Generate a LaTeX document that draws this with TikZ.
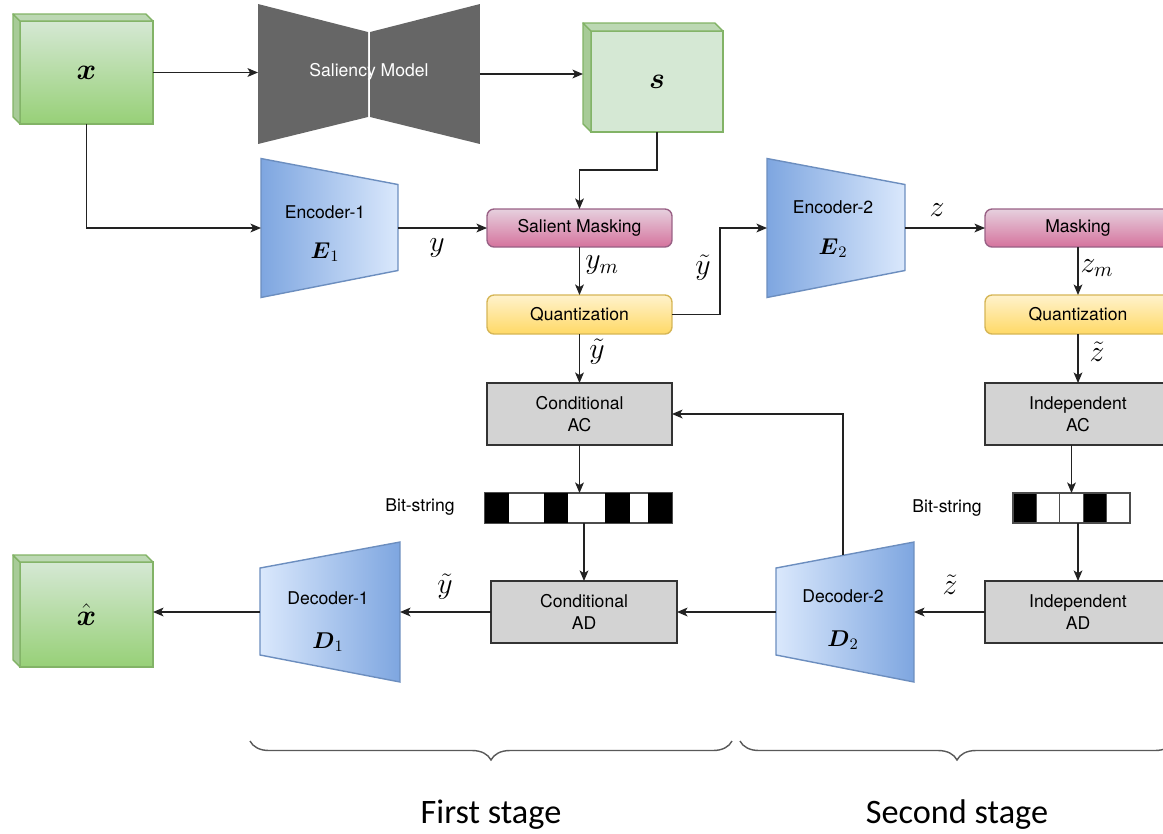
\RequirePackage{fix-cm}
\documentclass[tikz,border=0pt]{standalone}
\usepackage{amsmath}
\usepackage{fontspec}
\setsansfont{TeX Gyre Heros}
\newfontfamily\stagefont{Carlito}
\usetikzlibrary{arrows.meta, calc, decorations.pathreplacing, positioning}
\definecolor{greenhi}{HTML}{D5E8D4}
\definecolor{greenlo}{HTML}{97D077}
\definecolor{greenline}{HTML}{82B366}
\definecolor{salgray}{HTML}{666666}
\definecolor{encdark}{HTML}{7EA6E0}
\definecolor{enclight}{HTML}{DAE8FC}
\definecolor{encline}{HTML}{6C8EBF}
\definecolor{maskhi}{HTML}{E6D0DE}
\definecolor{masklo}{HTML}{D5739D}
\definecolor{maskline}{HTML}{996185}
\definecolor{quanthi}{HTML}{FFF2CC}
\definecolor{quantlo}{HTML}{FFD966}
\definecolor{quantline}{HTML}{D6B656}
\definecolor{codergray}{HTML}{D3D3D3}
\definecolor{coderline}{HTML}{333333}
\definecolor{wire}{HTML}{222222}
\tikzset{
  arr/.style={
    -{Stealth[length=6pt,width=5pt,inset=1.5pt]},
    line width=0.8pt,
    color=wire
  },
  frame/.style={
    rectangle,
    inner sep=0pt,
    outer sep=0pt
  },
  blockbox/.style={
    frame,
    draw,
    line width=0.8pt,
    align=center,
    font=\sffamily\fontsize{10}{12.5}\selectfont
  },
  maskbox/.style={
    blockbox,
    rounded corners=4pt,
    top color=maskhi,
    bottom color=masklo,
    draw=maskline
  },
  quantbox/.style={
    blockbox,
    rounded corners=4pt,
    top color=quanthi,
    bottom color=quantlo,
    draw=quantline
  },
  coderbox/.style={
    blockbox,
    fill=codergray,
    draw=coderline,
    minimum height=1.24cm
  },
  bitbar/.style={
    frame,
    draw=black!70,
    line width=0.6pt,
    minimum height=0.6cm
  },
  cubefront/.style={
    frame,
    draw=greenline,
    line width=0.8pt,
    font=\fontsize{17}{20}\selectfont
  },
  cubeside/.style={
    fill=greenline!55!greenhi,
    draw=greenline,
    line width=0.8pt,
    line join=round
  },
  cubetop/.style={
    fill=greenline!30!greenhi,
    draw=greenline,
    line width=0.8pt,
    line join=round
  },
  encshade/.style={
    left color=encdark,
    right color=enclight,
    draw=encline,
    line width=0.8pt
  },
  decshade/.style={
    left color=enclight,
    right color=encdark,
    draw=encline,
    line width=0.8pt
  },
  tagtext/.style={
    font=\sffamily\fontsize{10}{12}\selectfont,
    inner sep=0pt
  },
  symtext/.style={
    font=\fontsize{13}{15}\selectfont,
    inner sep=0pt
  },
  lbl/.style={
    font=\fontsize{17}{20}\selectfont,
    inner sep=0pt
  },
  stagebrace/.style={
    decorate,
    decoration={brace, mirror, amplitude=0.38cm},
    draw=black!65,
    line width=0.8pt
  },
  stagetext/.style={
    font=\stagefont\fontsize{19.5}{22}\selectfont,
    inner sep=0pt
  }
}
\begin{document}
\begin{tikzpicture}[x=0.02cm, y=-0.02cm]
  \clip (0,0) rectangle (1163,833);

  % input image x
  \node[cubefront, top color=greenhi, bottom color=greenlo,
        minimum width=2.66cm, minimum height=2.06cm] (xin) at (86.5,72.5) {$\boldsymbol{x}$};
  \coordinate (xback) at ($(xin.north west)+(-7,-7)$);
  \filldraw[cubeside] (xin.north west) -- (xback) -- ($(xin.south west)+(-7,-7)$) -- (xin.south west) -- cycle;
  \filldraw[cubetop] (xin.north west) -- (xback) -- ($(xin.north east)+(-7,-7)$) -- (xin.north east) -- cycle;

  % saliency model (bow tie)
  \node[frame, minimum width=4.44cm, minimum height=2.8cm] (sal) at (369,74) {};
  \fill[salgray] (sal.north west) -- ($(sal.north)+(-1,28)$) -- ($(sal.south)+(-1,-27)$) -- (sal.south west) -- cycle;
  \fill[salgray] (sal.north east) -- ($(sal.north)+(1,28)$) -- ($(sal.south)+(1,-27)$) -- (sal.south east) -- cycle;
  \node[tagtext, text=white] (saltext) at ($(sal.center)+(0,-2)$) {Saliency Model};

  % saliency map s
  \node[cubefront, fill=greenhi, minimum width=2.64cm, minimum height=2.02cm] (smap) at (657,81.5) {$\boldsymbol{s}$};
  \coordinate (sback) at ($(smap.north west)+(-8,-8)$);
  \filldraw[cubeside] (smap.north west) -- (sback) -- ($(smap.south west)+(-8,-8)$) -- (smap.south west) -- cycle;
  \filldraw[cubetop] (smap.north west) -- (sback) -- ($(smap.north east)+(-8,-8)$) -- (smap.north east) -- cycle;

  % encoder 1
  \node[frame, minimum width=2.74cm, minimum height=2.78cm] (enc1) at (329.5,228) {};
  \shadedraw[encshade] (enc1.north west) -- ($(enc1.north east)+(0,26)$) -- ($(enc1.south east)+(0,-27)$) -- (enc1.south west) -- cycle;
  \node[tagtext] (enc1name) at (325,212) {Encoder-1};
  \node[symtext] (enc1sym) at (325,252) {$\boldsymbol{E}_1$};

  % first stage blocks
  \node[maskbox, minimum width=3.7cm, minimum height=0.76cm] (sm) at (579.5,228) {Salient Masking};
  \node[quantbox, minimum width=3.7cm, minimum height=0.78cm] (q1) at (579.5,314.5) {Quantization};
  \node[coderbox, minimum width=3.7cm] (ac1) at (579.5,414) {Conditional\\AC};
  \node[bitbar, minimum width=3.74cm] (bits1) at (578.5,508) {};
  \foreach \a/\b in {0/24, 59/83, 120/145, 163/187}
    \fill[black] ($(bits1.north west)+(\a,0)$) rectangle ($(bits1.south west)+(\b,0)$);
  \node[tagtext] (bits1name) at (420,507) {Bit-string};
  \node[coderbox, minimum width=3.72cm] (ad1) at (584,612) {Conditional\\AD};

  % decoder 1
  \node[frame, minimum width=2.8cm, minimum height=2.8cm] (dec1) at (330,612) {};
  \shadedraw[decshade] (dec1.north east) -- (dec1.south east) -- ($(dec1.south west)+(0,-27)$) -- ($(dec1.north west)+(0,26)$) -- cycle;
  \node[tagtext] (dec1name) at (328,598) {Decoder-1};
  \node[symtext] (dec1sym) at (328,642) {$\boldsymbol{D}_1$};

  % reconstruction
  \node[cubefront, top color=greenhi, bottom color=greenlo,
        minimum width=2.66cm, minimum height=2.1cm] (xout) at (86.5,614.5) {$\hat{\boldsymbol{x}}$};
  \coordinate (xoutback) at ($(xout.north west)+(-7,-7)$);
  \filldraw[cubeside] (xout.north west) -- (xoutback) -- ($(xout.south west)+(-7,-7)$) -- (xout.south west) -- cycle;
  \filldraw[cubetop] (xout.north west) -- (xoutback) -- ($(xout.north east)+(-7,-7)$) -- (xout.north east) -- cycle;

  % encoder 2
  \node[frame, minimum width=2.76cm, minimum height=2.78cm] (enc2) at (836,228) {};
  \shadedraw[encshade] (enc2.north west) -- ($(enc2.north east)+(0,26)$) -- ($(enc2.south east)+(0,-27)$) -- (enc2.south west) -- cycle;
  \node[tagtext] (enc2name) at (833,207) {Encoder-2};
  \node[symtext] (enc2sym) at (833,248) {$\boldsymbol{E}_2$};

  % second stage blocks
  \node[maskbox, minimum width=3.72cm, minimum height=0.76cm] (mk) at (1078,228) {Masking};
  \node[quantbox, minimum width=3.72cm, minimum height=0.78cm] (q2) at (1078,314.5) {Quantization};
  \node[coderbox, minimum width=3.72cm] (ac2) at (1078,414) {Independent\\AC};
  \node[bitbar, minimum width=2.34cm] (bits2) at (1071.5,508) {};
  \foreach \i in {0,...,4}
    \draw[black!70, line width=0.6pt] ($(bits2.north west)+(23.4*\i,0)$) rectangle ($(bits2.south west)+(23.4*\i+23.4,0)$);
  \foreach \i in {0,3}
    \filldraw[fill=black, draw=black!70, line width=0.6pt] ($(bits2.north west)+(23.4*\i,0)$) rectangle ($(bits2.south west)+(23.4*\i+23.4,0)$);
  \node[tagtext] (bits2name) at (947,508) {Bit-string};
  \node[coderbox, minimum width=3.72cm] (ad2) at (1078,612) {Independent\\AD};

  % decoder 2
  \node[frame, minimum width=2.76cm, minimum height=2.8cm] (dec2) at (845,612) {};
  \shadedraw[decshade] (dec2.north east) -- (dec2.south east) -- ($(dec2.south west)+(0,-27)$) -- ($(dec2.north west)+(0,26)$) -- cycle;
  \node[tagtext] (dec2name) at (843,596) {Decoder-2};
  \node[symtext] (dec2sym) at (843,640) {$\boldsymbol{D}_2$};
  \coordinate (d2top) at (843,555);

  % connectors
  \draw[arr] (xin.east) -- (xin.east -| sal.west);
  \draw[arr] (sal.east) -- (sal.east -| sback);
  \draw[arr] (smap.south) -- ++(0,38) -| (sm.north);
  \draw[arr] (xin.south) |- (enc1.west);
  \draw[arr] (enc1.east) -- (sm.west);
  \draw[arr] (sm.south) -- (q1.north);
  \draw[arr] (q1.south) -- (ac1.north);
  \draw[arr] (ac1.south) -- (ac1.south |- bits1.north);
  \draw[arr] (bits1.south -| ad1.north) -- (ad1.north);
  \draw[arr] (ad1.west) -- (dec1.east);
  \draw[arr] (dec1.west) -- (dec1.west -| xout.east);
  \draw[arr] (q1.east) -- ++(48,0) |- (enc2.west);
  \draw[arr] (enc2.east) -- (mk.west);
  \draw[arr] (mk.south) -- (q2.north);
  \draw[arr] (q2.south) -- (ac2.north);
  \draw[arr] (ac2.south -| bits2.north) -- (bits2.north);
  \draw[arr] (bits2.south -| ad2.north) -- (ad2.north);
  \draw[arr] (ad2.west) -- (dec2.east);
  \draw[arr] (dec2.west) -- (ad1.east);
  \draw[arr] (d2top) |- (ac1.east);

  % signal labels
  \node[lbl] (ly) at (437,248) {$y$};
  \node[lbl] (lym) at (602,265) {$y_m$};
  \node[lbl] (lyq) at (597,352) {$\tilde{y}$};
  \node[lbl] (lyq2) at (703,268) {$\tilde{y}$};
  \node[lbl] (lz) at (937,210) {$z$};
  \node[lbl] (lzm) at (1097,268) {$z_m$};
  \node[lbl] (lzq) at (1097,352) {$\tilde{z}$};
  \node[lbl] (lyd) at (445,587) {$\tilde{y}$};
  \node[lbl] (lzd) at (950,585) {$\tilde{z}$};

  % stages
  \draw[stagebrace] (250,741) -- (732,741);
  \draw[stagebrace] (740,741) -- (1174,741);
  \node[stagetext, anchor=base] (stage1) at (491,823) {First stage};
  \node[stagetext, anchor=base] (stage2) at (957,823) {Second stage};
\end{tikzpicture}
\end{document}
